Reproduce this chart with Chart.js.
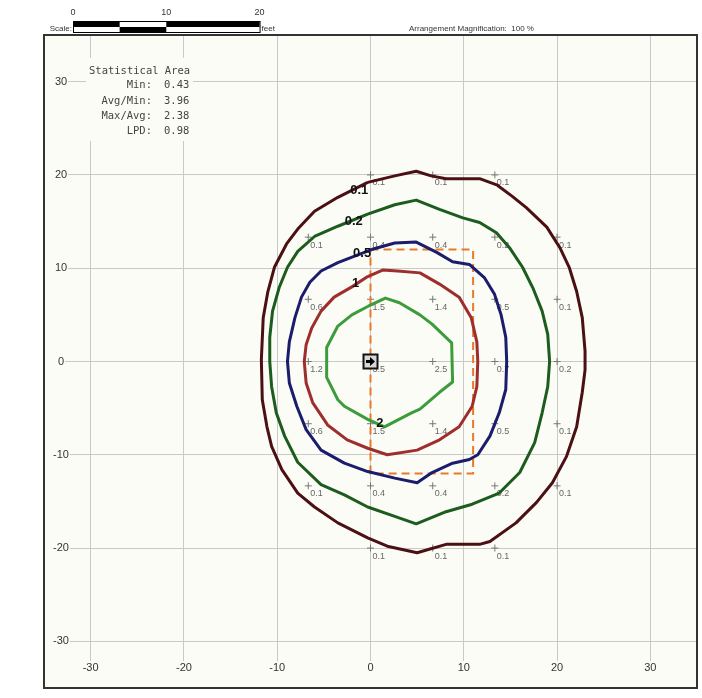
<!DOCTYPE html>
<html>
<head>
<meta charset="utf-8">
<title>Isolux</title>
<script src="https://cdn.jsdelivr.net/npm/chart.js@4.4.1/dist/chart.umd.min.js"></script>
<style>
html,body{margin:0;padding:0;background:#fff;overflow:hidden}
canvas{display:block}
</style>
</head>
<body>
<canvas id="graf-isolux" width="702" height="698"></canvas>
<script>
// ticks da grade (pés)
var tickVals = [-30,-20,-10,0,10,20,30]
var tickLabels = ['-30','-20','-10','0','10','20','30']

// curvas isolux, pontos [x, y] em pés
var isoValues = ['0.1','0.2','0.5','1','2']
var iso01 = [[-0.3,19.2],[2.6,19.9],[4.9,20.4],[6.5,19.9],[8.1,19.6],[11.7,19.6],[13.6,18.9],[15.2,17.7],[16.7,16.5],[18.9,14.4],[20.3,12.2],[21.3,10.1],[22.1,7.5],[22.7,4.7],[23.0,1.1],[23.0,-0.9],[22.7,-3.3],[22.1,-7.0],[21.0,-10.2],[19.5,-13.0],[17.8,-15.1],[15.6,-17.3],[12.8,-19.3],[11.7,-19.6],[8.1,-19.6],[5.0,-20.5],[1.8,-19.8],[-0.3,-18.9],[-3.5,-17.3],[-6.0,-15.6],[-7.8,-14.1],[-9.5,-11.6],[-10.6,-9.1],[-11.1,-7.0],[-11.6,-4.1],[-11.7,0.2],[-11.5,4.7],[-11.0,7.5],[-10.3,10.1],[-9.0,12.6],[-7.8,14.2],[-6.0,16.1],[-3.5,17.6],[-0.3,19.2]]
var iso02 = [[-0.3,15.8],[2.6,16.8],[4.9,17.3],[7.4,16.3],[9.9,15.4],[11.7,14.9],[13.5,13.8],[14.9,12.2],[16.3,10.1],[17.4,7.9],[18.4,5.4],[19.0,2.9],[19.2,0.0],[19.0,-2.7],[18.4,-5.5],[17.6,-8.7],[16.0,-11.9],[13.8,-14.1],[10.9,-15.3],[8.1,-16.1],[4.9,-17.4],[2.6,-16.6],[-0.3,-15.6],[-2.8,-14.3],[-5.3,-13.2],[-7.8,-10.8],[-9.2,-8.0],[-10.1,-5.5],[-10.6,-2.7],[-10.8,0.0],[-10.8,2.6],[-10.5,5.4],[-9.8,7.9],[-8.9,10.1],[-7.8,11.8],[-6.0,13.4],[-3.5,14.5],[-0.3,15.8]]
var iso05 = [[0.1,12.0],[2.6,12.7],[4.9,12.8],[7.1,11.7],[8.8,10.7],[10.6,10.4],[12.2,9.0],[13.3,7.2],[14.0,5.0],[14.5,2.6],[14.6,0.0],[14.5,-3.0],[13.8,-5.5],[12.8,-8.0],[11.5,-10.0],[10.6,-10.5],[8.8,-10.9],[6.6,-11.9],[5.0,-13.0],[2.6,-12.5],[-0.3,-11.8],[-2.8,-10.9],[-5.3,-9.5],[-6.9,-7.3],[-7.9,-4.8],[-8.7,-2.3],[-8.9,0.0],[-8.7,2.1],[-8.1,4.7],[-7.4,6.9],[-6.5,8.5],[-5.3,9.7],[-3.5,10.6],[-1.7,11.3],[0.1,12.0]]
var iso1 = [[-0.3,9.1],[1.3,9.8],[2.9,9.7],[5.3,9.5],[7.4,8.3],[9.5,6.9],[10.8,4.7],[11.4,2.1],[11.5,0.0],[11.4,-2.7],[10.9,-4.8],[9.5,-7.0],[7.4,-8.4],[5.0,-9.5],[1.8,-10.0],[-0.3,-9.3],[-2.5,-8.4],[-4.6,-6.8],[-6.2,-4.4],[-6.9,-2.3],[-7.1,0.0],[-6.9,1.8],[-6.3,3.6],[-5.3,5.4],[-3.9,6.9],[-2.0,8.0],[-0.3,9.1]]
var iso2 = [[-0.3,5.9],[1.6,6.8],[3.1,6.3],[5.3,5.0],[6.6,4.0],[8.7,2.0],[8.8,-2.2],[7.4,-3.3],[5.3,-5.1],[4.4,-5.5],[1.5,-7.0],[-0.3,-6.2],[-2.8,-4.8],[-3.5,-4.1],[-4.7,-1.7],[-4.7,1.5],[-3.5,3.8],[-2.0,5.0],[-0.3,5.9]]
var isoLabelPos = [[-1.2,18.3],[-1.8,15.0],[-0.9,11.6],[-1.6,8.4],[1.0,-6.6]]

// pontos de cálculo
var gridX = [-6.67,0,6.67,13.33,20]
var gridY = [20,13.33,6.67,0,-6.67,-13.33,-20]
var gridVals = [
    [null,'0.1','0.1','0.1',null],
    ['0.1','0.4','0.4','0.2','0.1'],
    ['0.6','1.5','1.4','0.5','0.1'],
    ['1.2','3.5','2.5','0.7','0.2'],
    ['0.6','1.5','1.4','0.5','0.1'],
    ['0.1','0.4','0.4','0.2','0.1'],
    [null,'0.1','0.1','0.1',null]
]

// área de cálculo (retângulo tracejado) e luminária
var areaX = [0,11,11,0,0]
var areaY = [12,12,-12,-12,12]
var lumX = [0]
var lumY = [0]

// estatísticas
var statNames = ['Min:','Avg/Min:','Max/Avg:','LPD:']
var statVals = ['0.43','3.96','2.38','0.98']

// barra de escala (pés)
var scaleMarks = [0,10,20]

/**
 * @description: desenha o ícone da luminária (quadrado com seta)
*/
function criaLuminaria(){
    var c = document.createElement('canvas')
    c.width = 17
    c.height = 17
    var g = c.getContext('2d')
    g.fillStyle = '#d6d6d6'
    g.fillRect(1,1,15,15)
    g.strokeStyle = '#111'
    g.lineWidth = 2
    g.strokeRect(1.5,1.5,14,14)
    g.fillStyle = '#000'
    g.fillRect(4,7,5,3)
    g.beginPath()
    g.moveTo(8,4)
    g.lineTo(13,8.5)
    g.lineTo(8,13)
    g.closePath()
    g.fill()
    return c
}

/**
 * @description: fundo, rótulos, moldura e barra de escala
*/
var planoPlugin = {
    id: 'plano',
    beforeDraw: function(chart){
        var ctx = chart.ctx, a = chart.chartArea
        ctx.save()
        ctx.fillStyle = '#fcfcf6'
        ctx.fillRect(a.left, a.top, a.right - a.left, a.bottom - a.top)
        ctx.restore()
    },
    beforeDatasetsDraw: function(chart){
        var ctx = chart.ctx, a = chart.chartArea
        var xs = chart.scales.x, ys = chart.scales.y
        ctx.save()

        //rótulos dos eixos dentro da área
        ctx.font = '11px "Liberation Sans", Arial, sans-serif'
        ctx.textAlign = 'center'
        ctx.textBaseline = 'middle'
        tickVals.forEach(function(v, i){
            var py = ys.getPixelForValue(v)
            var w = ctx.measureText(tickLabels[i]).width
            ctx.fillStyle = '#fcfcf6'
            ctx.fillRect(a.left + 1, py - 6, 16 + w / 2 + 1, 12)
            ctx.fillStyle = '#333'
            ctx.fillText(tickLabels[i], a.left + 17, py)

            var px = xs.getPixelForValue(v)
            ctx.fillStyle = '#fcfcf6'
            ctx.fillRect(px - w / 2 - 1, a.bottom - 27, w + 2, 26)
            ctx.fillStyle = '#333'
            ctx.fillText(tickLabels[i], px, a.bottom - 20)
        })

        //quadro de estatísticas
        ctx.fillStyle = '#fcfcf6'
        ctx.fillRect(86, 58, 107, 83)
        ctx.fillStyle = '#444'
        ctx.font = '10.5px "DejaVu Sans Mono", monospace'
        ctx.textAlign = 'left'
        ctx.fillText('Statistical Area', 89, 71)
        statNames.forEach(function(n, i){
            var py = 85.5 + i * 15.3
            ctx.textAlign = 'right'
            ctx.fillText(n, 152, py)
            ctx.textAlign = 'left'
            ctx.fillText(statVals[i], 164, py)
        })

        //valores dos pontos de cálculo
        ctx.fillStyle = '#666'
        ctx.font = '9px "Liberation Sans", Arial, sans-serif'
        ctx.textAlign = 'left'
        gridY.forEach(function(gy, r){
            gridX.forEach(function(gx, c){
                var val = gridVals[r][c]
                if(val === null) return
                ctx.fillText(val, xs.getPixelForValue(gx) + 2, ys.getPixelForValue(gy) + 8)
            })
        })
        ctx.restore()
    },
    afterDatasetsDraw: function(chart){
        var ctx = chart.ctx, a = chart.chartArea
        var xs = chart.scales.x, ys = chart.scales.y
        ctx.save()

        //rótulos das curvas
        ctx.fillStyle = '#111'
        ctx.font = 'bold 13px "Liberation Sans", Arial, sans-serif'
        ctx.textAlign = 'center'
        ctx.textBaseline = 'middle'
        isoValues.forEach(function(v, i){
            ctx.fillText(v, xs.getPixelForValue(isoLabelPos[i][0]), ys.getPixelForValue(isoLabelPos[i][1]))
        })

        //moldura
        ctx.strokeStyle = '#333'
        ctx.lineWidth = 2
        ctx.strokeRect(a.left, a.top, a.right - a.left, a.bottom - a.top)
        ctx.restore()
    },
    afterDraw: function(chart){
        var ctx = chart.ctx
        var xs = chart.scales.x
        var pxFt = (xs.getPixelForValue(20) - xs.getPixelForValue(0)) / 20
        var x0 = 73, top = 21, mid = 27, bot = 32
        ctx.save()

        //barra de escala
        ctx.fillStyle = '#fff'
        ctx.fillRect(x0, top, 20 * pxFt, bot - top)
        ctx.fillStyle = '#000'
        ctx.fillRect(x0, top, 5 * pxFt, mid - top)
        ctx.fillRect(x0 + 10 * pxFt, top, 10 * pxFt, mid - top)
        ctx.fillRect(x0 + 5 * pxFt, mid, 5 * pxFt, bot - mid)
        ctx.strokeStyle = '#000'
        ctx.lineWidth = 1
        ctx.strokeRect(x0 + 0.5, top + 0.5, 20 * pxFt, bot - top)

        ctx.font = '9px "Liberation Sans", Arial, sans-serif'
        ctx.textAlign = 'center'
        ctx.textBaseline = 'middle'
        ctx.fillStyle = '#333'
        scaleMarks.forEach(function(m){
            ctx.fillText(String(m), x0 + m * pxFt, 13)
        })
        ctx.font = '8px "Liberation Sans", Arial, sans-serif'
        ctx.textAlign = 'right'
        ctx.fillText('Scale:', x0 - 1, 29)
        ctx.textAlign = 'left'
        ctx.fillText('feet', x0 + 20 * pxFt + 2, 29)
        ctx.fillText('Arrangement Magnification:  100 %', 409, 29)
        ctx.restore()
    }
}

/**
 * @description: gera o gráfico isolux
*/
function gerarGraficoIsolux(){
    try{
        var configFunc = {
            context: document.getElementById('graf-isolux'),
            curvas: [iso01, iso02, iso05, iso1, iso2],
            cores: ['#4a1013','#1c5c1e','#1b1c6c','#9e2e2e','#3c9c3c'],
            datasets: []
        }

        //luminária no topo
        configFunc.datasets.push({
            label: 'luminaria',
            data: lumX.map(function(x, i){ return {x: x, y: lumY[i]} }),
            pointStyle: criaLuminaria(),
            pointRadius: 8,
            showLine: false
        })

        //curvas isolux
        configFunc.curvas.forEach(function(c, i){
            configFunc.datasets.push({
                label: isoValues[i],
                data: c.map(function(p){ return {x: p[0], y: p[1]} }),
                showLine: true,
                borderColor: configFunc.cores[i],
                borderWidth: 3,
                borderJoinStyle: 'round',
                pointRadius: 0,
                tension: 0,
                fill: false
            })
        })

        //área de cálculo tracejada
        configFunc.datasets.push({
            label: 'area',
            data: areaX.map(function(x, i){ return {x: x, y: areaY[i]} }),
            showLine: true,
            borderColor: '#e8782a',
            borderWidth: 2,
            borderDash: [8,5],
            pointRadius: 0,
            fill: false
        })

        //marcas dos pontos de cálculo
        var pontos = []
        gridY.forEach(function(gy, r){
            gridX.forEach(function(gx, c){
                if(gridVals[r][c] !== null) pontos.push({x: gx, y: gy})
            })
        })
        configFunc.datasets.push({
            label: 'pontos',
            data: pontos,
            showLine: false,
            pointStyle: 'cross',
            pointRadius: 3.5,
            borderColor: '#777',
            borderWidth: 1
        })

        var eixo = {
            type: 'linear',
            min: -35,
            max: 35,
            afterBuildTicks: function(s){
                s.ticks = tickVals.map(function(v){ return {value: v} })
            },
            ticks: {display: false},
            grid: {color: '#c9c9c9', lineWidth: 1, drawTicks: false},
            border: {display: false}
        }

        new Chart(configFunc.context, {
            type: 'scatter',
            data: {datasets: configFunc.datasets},
            options: {
                responsive: false,
                devicePixelRatio: 1,
                animation: false,
                layout: {autoPadding: false, padding: {left: 44, top: 35, right: 5, bottom: 10}},
                plugins: {legend: {display: false}, tooltip: {enabled: false}},
                scales: {x: eixo, y: Object.assign({}, eixo)}
            },
            plugins: [planoPlugin]
        })
    }catch(e){console.error(e)}
}

gerarGraficoIsolux()
</script>
</body>
</html>
